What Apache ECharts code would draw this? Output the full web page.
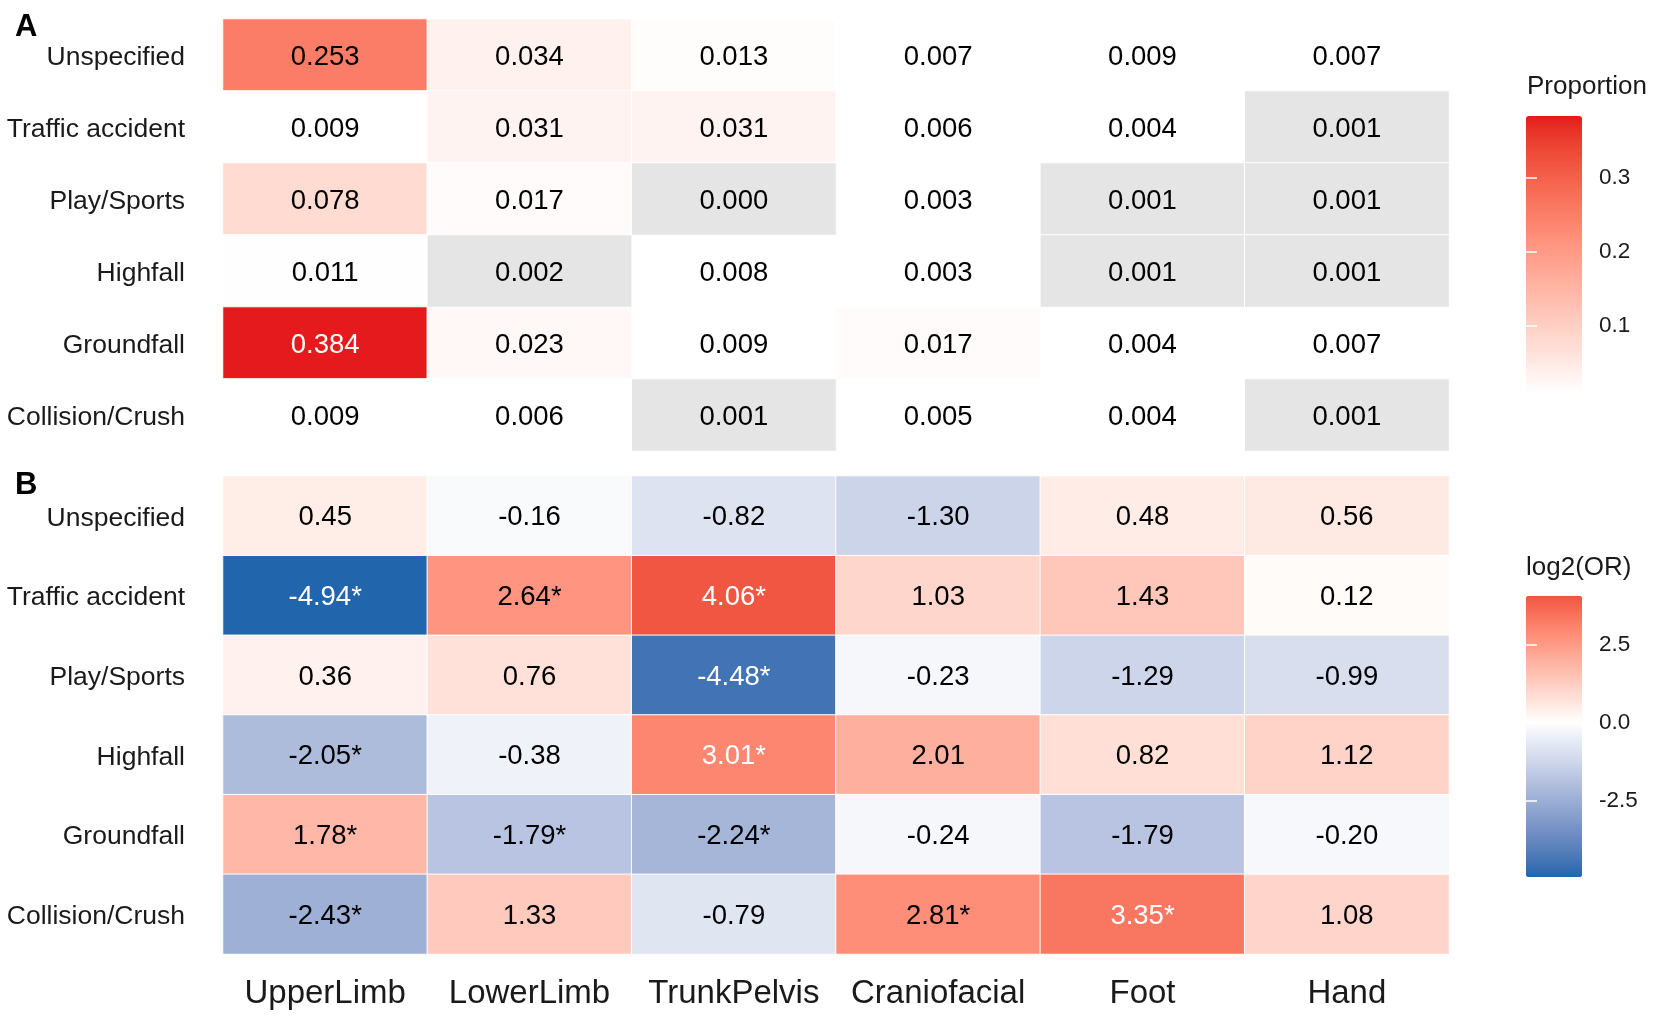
<!DOCTYPE html>
<html>
<head>
<meta charset="utf-8">
<script src="https://cdn.jsdelivr.net/npm/echarts@6/dist/echarts.min.js"></script>
<style>
html,body{margin:0;padding:0;background:#fff;}
#chart{width:1654px;height:1017px;}
</style>
</head>
<body>
<div id="chart"></div>
<script>
// ---------- data ----------
const bodyParts = ['UpperLimb', 'LowerLimb', 'TrunkPelvis', 'Craniofacial', 'Foot', 'Hand'];
const mechanisms = ['Unspecified', 'Traffic accident', 'Play/Sports', 'Highfall', 'Groundfall', 'Collision/Crush'];

// Panel A: proportion (rows = mechanisms top->bottom, cols = bodyParts)
const propUnspecified = [0.253, 0.034, 0.013, 0.007, 0.009, 0.007];
const propTraffic     = [0.009, 0.031, 0.031, 0.006, 0.004, 0.001];
const propPlay        = [0.078, 0.017, 0.000, 0.003, 0.001, 0.001];
const propHighfall    = [0.011, 0.002, 0.008, 0.003, 0.001, 0.001];
const propGroundfall  = [0.384, 0.023, 0.009, 0.017, 0.004, 0.007];
const propCollision   = [0.009, 0.006, 0.001, 0.005, 0.004, 0.001];
// cells drawn grey (missing fill) in panel A
const naUnspecified = [0, 0, 0, 0, 0, 0];
const naTraffic     = [0, 0, 0, 0, 0, 1];
const naPlay        = [0, 0, 1, 0, 1, 1];
const naHighfall    = [0, 1, 0, 0, 1, 1];
const naGroundfall  = [0, 0, 0, 0, 0, 0];
const naCollision   = [0, 0, 1, 0, 0, 1];

// Panel B: log2(OR)
const orUnspecified = [0.45, -0.16, -0.82, -1.30, 0.48, 0.56];
const orTraffic     = [-4.94, 2.64, 4.06, 1.03, 1.43, 0.12];
const orPlay        = [0.36, 0.76, -4.48, -0.23, -1.29, -0.99];
const orHighfall    = [-2.05, -0.38, 3.01, 2.01, 0.82, 1.12];
const orGroundfall  = [1.78, -1.79, -2.24, -0.24, -1.79, -0.20];
const orCollision   = [-2.43, 1.33, -0.79, 2.81, 3.35, 1.08];
// significance flags (*)
const sigUnspecified = [0, 0, 0, 0, 0, 0];
const sigTraffic     = [1, 1, 1, 0, 0, 0];
const sigPlay        = [0, 0, 1, 0, 0, 0];
const sigHighfall    = [1, 0, 1, 0, 0, 0];
const sigGroundfall  = [1, 1, 1, 0, 0, 0];
const sigCollision   = [1, 0, 0, 1, 1, 0];

// colour-bar scales
const propLimits = [0.009, 0.384];
const propTicks = [0.1, 0.2, 0.3];
const orLimits = [-4.94, 4.06];
const orTicks = [-2.5, 0.0, 2.5];

// ---------- colour helpers (Lab interpolation like ggplot) ----------
function hex2rgb(h){h=h.replace('#','');return [0,2,4].map(i=>parseInt(h.substr(i,2),16));}
function s2l(c){c/=255;return c<=0.04045?c/12.92:Math.pow((c+0.055)/1.055,2.4);}
function l2s(c){c=c<=0.0031308?12.92*c:1.055*Math.pow(c,1/2.4)-0.055;return Math.max(0,Math.min(255,Math.round(c*255)));}
const WX=0.95047,WY=1,WZ=1.08883;
function f(t){return t>0.008856?Math.cbrt(t):7.787*t+16/116;}
function fi(t){return t>0.206893?t*t*t:(t-16/116)/7.787;}
function rgb2lab(rgb){const [r,g,b]=rgb.map(s2l);
  const x=(0.4124*r+0.3576*g+0.1805*b)/WX,y=(0.2126*r+0.7152*g+0.0722*b)/WY,z=(0.0193*r+0.1192*g+0.9505*b)/WZ;
  return [116*f(y)-16,500*(f(x)-f(y)),200*(f(y)-f(z))];}
function lab2hex(lab){const fy=(lab[0]+16)/116,fx=fy+lab[1]/500,fz=fy-lab[2]/200;
  const x=fi(fx)*WX,y=fi(fy)*WY,z=fi(fz)*WZ;
  const r=3.2406*x-1.5372*y-0.4986*z,g=-0.9689*x+1.8758*y+0.0415*z,b=0.0557*x-0.2040*y+1.0570*z;
  return '#'+[r,g,b].map(v=>l2s(v).toString(16).padStart(2,'0')).join('');}
function mixLab(c1,c2,t){const a=rgb2lab(hex2rgb(c1)),b=rgb2lab(hex2rgb(c2));return lab2hex(a.map((v,i)=>v+(b[i]-v)*t));}

const LOW_BLUE='#2166AC', MID='#FFFFFF', HIGH_RED='#E41A1C', NA_GREY='#E5E5E5';
const N=40;
const propColors=[];for(let i=0;i<=N;i++)propColors.push(mixLab(MID,HIGH_RED,i/N));
const orColors=[];
const orMaxAbs=Math.max(Math.abs(orLimits[0]),Math.abs(orLimits[1]));
for(let i=0;i<=N;i++){const v=orLimits[0]+(orLimits[1]-orLimits[0])*i/N;
  const t=0.5+v/(2*orMaxAbs);
  orColors.push(t<0.5?mixLab(LOW_BLUE,MID,t/0.5):mixLab(MID,HIGH_RED,(t-0.5)/0.5));}

// ---------- build series data ----------
const propRows=[propUnspecified,propTraffic,propPlay,propHighfall,propGroundfall,propCollision];
const naRows=[naUnspecified,naTraffic,naPlay,naHighfall,naGroundfall,naCollision];
const orRows=[orUnspecified,orTraffic,orPlay,orHighfall,orGroundfall,orCollision];
const sigRows=[sigUnspecified,sigTraffic,sigPlay,sigHighfall,sigGroundfall,sigCollision];

const aColored=[],aGrey=[],bData=[];
propRows.forEach((row,r)=>row.forEach((v,c)=>{
  const item={value:[c,r,v],txt:v.toFixed(3),label:{color:v>0.3?'#fff':'#000'}};
  (naRows[r][c]?aGrey:aColored).push(item);
}));
orRows.forEach((row,r)=>row.forEach((v,c)=>{
  bData.push({value:[c,r,v],txt:v.toFixed(2)+(sigRows[r][c]?'*':''),label:{color:Math.abs(v)>3?'#fff':'#000'}});
}));

const FONT='Liberation Sans, Arial, sans-serif';
const cellLabel={show:true,fontSize:27.5,fontFamily:FONT,formatter:p=>p.data.txt,offset:[0,2]};
const cellStyle={borderColor:'#fff',borderWidth:1};

function legendAxes(grid,lim,ticks,showLbl,pos){
  return {type:'value',gridIndex:grid,min:lim[0],max:lim[1],position:pos,z:10,
    axisLine:{show:false},splitLine:{show:false},
    axisTick:{show:true,inside:true,length:11,customValues:ticks,lineStyle:{color:'#fff',width:1.5}},
    axisLabel:{show:showLbl,customValues:ticks,margin:17,fontSize:22.5,fontFamily:FONT,color:'#1a1a1a',formatter:v=>v.toFixed(1)}};
}
function rowAxis(grid){
  return {type:'category',gridIndex:grid,data:mechanisms,inverse:true,axisLine:{show:false},axisTick:{show:false},splitLine:{show:false},
    axisLabel:{interval:0,fontSize:26.5,fontFamily:FONT,color:'#1a1a1a',margin:38,verticalAlign:'top',padding:[-11,0,0,0]}};
}

const GRID_W=1226;
const chart=echarts.init(document.getElementById('chart'),null,{renderer:'canvas'});
chart.setOption({
  backgroundColor:'#fff',
  animation:false,
  grid:[
    {left:223,top:19,width:GRID_W,height:432},
    {left:223,top:476,width:GRID_W,height:478},
    {left:1526,top:116,width:56,height:277},
    {left:1526,top:596,width:56,height:281}
  ],
  xAxis:[
    {type:'category',gridIndex:0,data:bodyParts,show:false},
    {type:'category',gridIndex:1,data:bodyParts,axisLine:{show:false},axisTick:{show:false},splitLine:{show:false},
      axisLabel:{interval:0,fontSize:33,fontFamily:FONT,color:'#1a1a1a',margin:23}},
    {type:'value',gridIndex:2,show:false},
    {type:'value',gridIndex:3,show:false}
  ],
  yAxis:[
    rowAxis(0),
    rowAxis(1),
    legendAxes(2,propLimits,propTicks,true,'right'),
    legendAxes(2,propLimits,propTicks,false,'left'),
    legendAxes(3,orLimits,orTicks,true,'right'),
    legendAxes(3,orLimits,orTicks,false,'left')
  ],
  visualMap:[
    {type:'continuous',seriesIndex:0,min:propLimits[0],max:propLimits[1],calculable:false,orient:'vertical',
      left:1526,top:116,itemWidth:56,itemHeight:277,padding:0,text:null,showLabel:false,hoverLink:false,
      inRange:{color:propColors},outOfRange:{color:[MID]}},
    {type:'continuous',seriesIndex:2,min:orLimits[0],max:orLimits[1],calculable:false,orient:'vertical',
      left:1526,top:596,itemWidth:56,itemHeight:281,padding:0,text:null,showLabel:false,hoverLink:false,
      inRange:{color:orColors},outOfRange:{color:[LOW_BLUE]}}
  ],
  graphic:[
    {type:'text',left:15,top:12,style:{text:'A',font:'bold 31px '+FONT,fill:'#000'}},
    {type:'text',left:15,top:470,style:{text:'B',font:'bold 31px '+FONT,fill:'#000'}},
    {type:'text',left:1527,top:74,style:{text:'Proportion',font:'26px '+FONT,fill:'#1a1a1a'}},
    {type:'text',left:1526,top:555,style:{text:'log2(OR)',font:'26px '+FONT,fill:'#1a1a1a'}}
  ],
  series:[
    {type:'heatmap',xAxisIndex:0,yAxisIndex:0,data:aColored,label:cellLabel,itemStyle:cellStyle,emphasis:{disabled:true}},
    {type:'heatmap',xAxisIndex:0,yAxisIndex:0,data:aGrey,label:cellLabel,itemStyle:Object.assign({color:NA_GREY},cellStyle),emphasis:{disabled:true}},
    {type:'heatmap',xAxisIndex:1,yAxisIndex:1,data:bData,label:cellLabel,itemStyle:cellStyle,emphasis:{disabled:true}}
  ]
});
</script>
</body>
</html>
